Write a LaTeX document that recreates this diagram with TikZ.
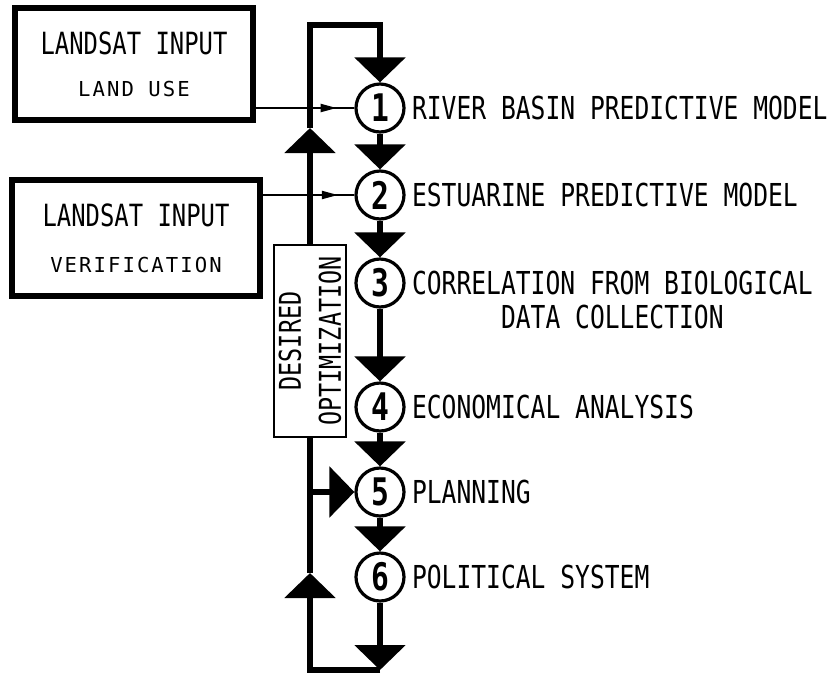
\documentclass[tikz,border=0pt]{standalone}
\usepackage{fontspec}
\usepackage{tikz}
\usetikzlibrary{arrows.meta,positioning,decorations.markings}

\newfontfamily\stencil[FakeStretch=0.78]{DejaVu Sans Mono}
\newfontfamily\stencilsmall[LetterSpace=10]{DejaVu Sans Mono}

\tikzset{
  stage/.style={circle, draw, line width=1.6pt, minimum size=24pt, inner sep=0pt, fill=white,
    font=\stencil\fontsize{19}{19}\selectfont\bfseries},
  stagetext/.style={inner sep=1pt, align=center, font=\stencil\fontsize{15.8}{17}\selectfont},
  inputbox/.style={draw, line width=3pt, align=center, inner sep=0pt},
  flow/.style={line width=3pt, -{Triangle[width=25pt,length=12.5pt]}},
  feed/.style={line width=1pt, postaction={decorate},
    decoration={markings, mark=at position 0.82 with {\arrow{Triangle[length=8pt,width=4pt]}}}}
}

\newcommand{\bigtag}[1]{{\stencil\fontsize{15.3}{18}\selectfont #1}}
\newcommand{\smalltag}[1]{{\stencilsmall\fontsize{10.3}{18}\selectfont #1}}

\begin{document}
\begin{tikzpicture}[x=0.5pt, y=-0.5pt]
	\useasboundingbox (0,0) rectangle (831,676);
	
	% landsat inputs
	\node[inputbox, minimum width=119pt, minimum height=56pt] (in1) at (134,64)
		{\bigtag{LANDSAT INPUT}\\[9pt]\smalltag{LAND USE}};
	\node[inputbox, minimum width=124pt, minimum height=58pt] (in2) at (136,238)
		{\bigtag{LANDSAT INPUT}\\[11pt]\smalltag{VERIFICATION}};
	
	% the six stages
	\node[stage] (c1) at (380,108) {1};
	\node[stage] (c2) at (380,195) {2};
	\node[stage] (c3) at (380,283) {3};
	\node[stage] (c4) at (380,407) {4};
	\node[stage] (c5) at (380,492) {5};
	\node[stage] (c6) at (380,577) {6};
	
	\node[stagetext, right=2pt of c1] (t1) {RIVER BASIN PREDICTIVE MODEL};
	\node[stagetext, right=2pt of c2] (t2) {ESTUARINE PREDICTIVE MODEL};
	\node[stagetext, right=2pt of c3, yshift=-8.5pt] (t3) {CORRELATION FROM BIOLOGICAL\\DATA COLLECTION};
	\node[stagetext, right=2pt of c4] (t4) {ECONOMICAL ANALYSIS};
	\node[stagetext, right=2pt of c5] (t5) {PLANNING};
	\node[stagetext, right=2pt of c6] (t6) {POLITICAL SYSTEM};
	
	% feedback loop
	\node[draw, line width=1pt, rotate=90, fill=white, minimum width=96pt, minimum height=36pt,
		inner sep=0pt, align=center, font=\stencil\fontsize{15}{20}\selectfont] (opt) at (310,341)
		{DESIRED\\OPTIMIZATION};
	
	\coordinate (tl) at (310,25);
	\coordinate (tr) at (380,25);
	\coordinate (uptip1) at (310,128);
	\coordinate (uptip2) at (310,573);
	\coordinate (bl) at (310,670);
	\coordinate (br) at (380,670);
	\coordinate (fork) at (310,492);
	
	\foreach \a/\b in {c1/c2,c2/c3,c3/c4,c4/c5,c5/c6}
		\draw[flow] (\a) -- (\b);
	
	\draw[flow] (c6) -- (br);
	\draw[flow] (br) -- (bl) -- (uptip2);
	\draw[line width=3pt] (uptip2) -- (opt.west);
	\draw[flow] (opt.east) -- (uptip1);
	\draw[flow] (uptip1) -- (tl) -- (tr) -- (c1);
	\draw[flow] (fork) -- (c5);
	
	\draw[feed] (in1.east |- c1) -- (c1);
	\draw[feed] (in2.east |- c2) -- (c2);
\end{tikzpicture}
\end{document}
